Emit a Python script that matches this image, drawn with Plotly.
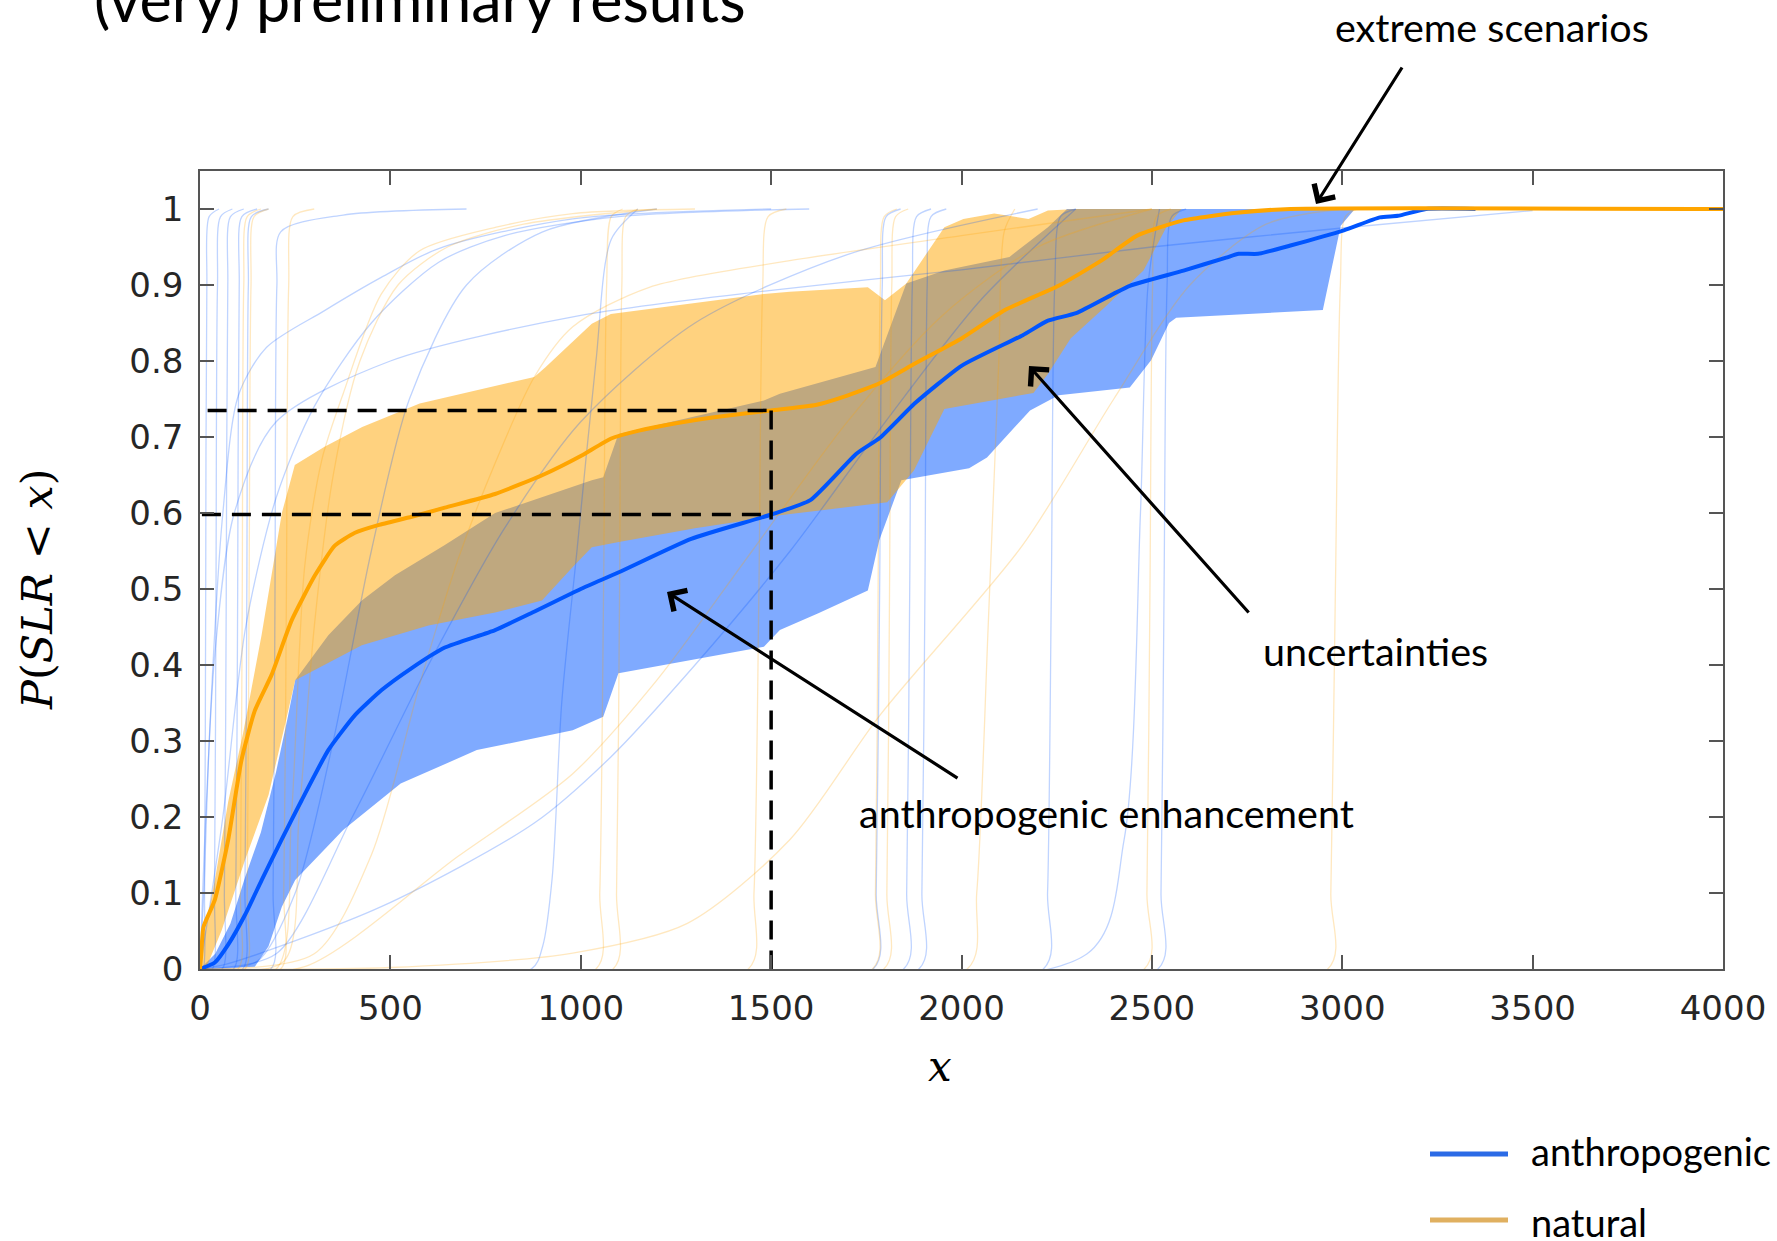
import plotly.graph_objects as go

# ---------------------------------------------------------------
# Median cumulative distributions P(SLR < x)
# ---------------------------------------------------------------
anthro_x = [0, 39, 74, 118, 162, 214, 267, 337, 407, 477, 556, 643, 775, 873, 1000,
            1100, 1290, 1500, 1603, 1724, 1786, 1879, 2001, 2161, 2227, 2301, 2398,
            2442, 2583, 2695, 2728, 2779, 2864, 3004, 3099, 3146, 3220, 3350]
anthro_p = [0, 0.0085, 0.032, 0.071, 0.117, 0.17, 0.222, 0.288, 0.334, 0.367, 0.396,
            0.423, 0.446, 0.469, 0.5, 0.522, 0.566, 0.598, 0.617, 0.678, 0.699, 0.745,
            0.794, 0.834, 0.853, 0.863, 0.888, 0.899, 0.919, 0.936, 0.941, 0.941,
            0.952, 0.972, 0.989, 0.991, 1.0, 1.0]

natural_x = [0, 3, 9, 39, 74, 109, 144, 188, 241, 302, 354, 407, 468, 556, 643, 775,
             900, 1000, 1080, 1150, 1250, 1350, 1500, 1617, 1692, 1786, 1879, 2001,
             2114, 2255, 2367, 2461, 2583, 2723, 2864, 4000]
natural_p = [0, 0.018, 0.055, 0.091, 0.17, 0.275, 0.34, 0.387, 0.459, 0.518, 0.557,
             0.574, 0.584, 0.595, 0.607, 0.625, 0.65, 0.675, 0.698, 0.708, 0.718,
             0.726, 0.735, 0.742, 0.753, 0.771, 0.797, 0.83, 0.867, 0.899, 0.932,
             0.965, 0.985, 0.995, 1.0, 1.0]

# ---------------------------------------------------------------
# Uncertainty envelopes (upper / lower bounds)
# ---------------------------------------------------------------
anthro_hi_x = [0, 40, 80, 118, 160, 200, 230, 250, 337, 425, 512, 643, 775, 1029,
               1059, 1099, 1481, 1523, 1774, 1855, 1955, 2126, 2227, 2277, 3033]
anthro_hi_p = [0, 0.02, 0.06, 0.12, 0.18, 0.26, 0.33, 0.38, 0.439, 0.485, 0.518,
               0.558, 0.6, 0.643, 0.647, 0.704, 0.748, 0.757, 0.792, 0.902, 0.919,
               0.937, 0.976, 1.0, 1.0]
anthro_lo_x = [0, 144, 180, 215, 250, 376, 527, 727, 979, 1059, 1099, 1280, 1481,
               1523, 1624, 1754, 1784, 1842, 2020, 2067, 2180, 2255, 2442, 2498, 2545,
               2564, 2949, 2996, 3033]
anthro_lo_p = [0, 0.003, 0.03, 0.082, 0.117, 0.183, 0.244, 0.288, 0.314, 0.332, 0.389,
               0.406, 0.424, 0.446, 0.468, 0.498, 0.564, 0.643, 0.659, 0.673, 0.735,
               0.755, 0.765, 0.801, 0.85, 0.857, 0.867, 0.978, 1.0]

natural_hi_x = [0, 13, 40, 74, 113, 162, 215, 249, 326, 426, 577, 878, 908, 1029,
                1079, 1481, 1549, 1754, 1799, 1855, 1955, 2005, 2086, 2176, 2227,
                2300, 2578]
natural_hi_p = [0.03, 0.05, 0.12, 0.22, 0.31, 0.44, 0.6, 0.663, 0.687, 0.713, 0.744,
                0.779, 0.792, 0.849, 0.862, 0.888, 0.891, 0.897, 0.88, 0.902, 0.976,
                0.987, 0.994, 0.987, 0.998, 1.0, 1.0]
natural_lo_x = [0, 15, 57, 118, 180, 223, 250, 425, 600, 775, 898, 979, 1029, 1100,
                1300, 1523, 1805, 1875, 1955, 2189, 2227, 2287, 2377, 2478, 2538, 2578]
natural_lo_p = [0, 0, 0.051, 0.143, 0.229, 0.321, 0.38, 0.426, 0.452, 0.469, 0.485,
                0.529, 0.555, 0.562, 0.58, 0.597, 0.614, 0.656, 0.737, 0.758, 0.783,
                0.83, 0.871, 0.919, 0.976, 1.0]

# ---------------------------------------------------------------
# Individual scenario CDFs (x values, probabilities)
# ---------------------------------------------------------------
anthro_runs = [
    ([0, 8, 12, 15, 18, 24, 50], [0, 0, 0.1, 0.5, 0.9, 0.99, 1]),
    ([0, 32, 38, 42, 46, 54, 85], [0, 0, 0.1, 0.5, 0.9, 0.99, 1]),
    ([0, 58, 64, 69, 73, 80, 115], [0, 0, 0.1, 0.5, 0.9, 0.99, 1]),
    ([0, 88, 94, 99, 103, 110, 150], [0, 0, 0.1, 0.5, 0.9, 0.99, 1]),
    ([0, 112, 118, 123, 127, 135, 180], [0, 0, 0.1, 0.5, 0.9, 0.99, 1]),
    ([0, 186, 192, 197, 202, 212, 376, 700], [0, 0, 0.1, 0.5, 0.9, 0.97, 0.992, 1]),
    ([0, 10, 26, 60, 101, 175, 326, 476, 627, 979, 1500],
     [0, 0.1, 0.32, 0.6, 0.755, 0.818, 0.866, 0.91, 0.948, 0.987, 1]),
    ([0, 15, 40, 90, 200, 500, 1000, 1500, 2000, 2500, 3000, 3500],
     [0, 0.2, 0.42, 0.6, 0.72, 0.8, 0.86, 0.893, 0.92, 0.95, 0.975, 0.998]),
    ([0, 60, 120, 200, 300, 450, 627, 800, 1100, 1600],
     [0, 0.2, 0.45, 0.62, 0.74, 0.85, 0.93, 0.965, 0.99, 1]),
    ([0, 150, 250, 350, 450, 550, 700, 900, 1200],
     [0, 0.01, 0.1, 0.3, 0.55, 0.75, 0.9, 0.97, 1]),
    ([0, 200, 400, 600, 800, 1000, 1300, 1700, 2200],
     [0, 0.02, 0.2, 0.4, 0.58, 0.72, 0.85, 0.94, 1]),
    ([0, 74, 476, 878, 1079, 1300, 1550, 1800, 2050, 2300],
     [0, 0.007, 0.082, 0.192, 0.279, 0.4, 0.55, 0.72, 0.88, 1]),
    ([0, 870, 900, 925, 950, 990, 1040, 1080, 1150],
     [0, 0, 0.03, 0.12, 0.35, 0.55, 0.8, 0.96, 1]),
    ([0, 1768, 1776, 1785, 1792, 1802, 1840], [0, 0, 0.1, 0.5, 0.9, 0.99, 1]),
    ([0, 1848, 1856, 1864, 1871, 1882, 1920], [0, 0, 0.1, 0.5, 0.9, 0.99, 1]),
    ([0, 1888, 1896, 1904, 1910, 1920, 1960], [0, 0, 0.1, 0.5, 0.9, 0.99, 1]),
    ([0, 2215, 2226, 2236, 2245, 2260, 2300], [0, 0, 0.1, 0.5, 0.9, 0.99, 1]),
    ([0, 2330, 2427, 2470, 2490, 2520], [0, 0.02, 0.17, 0.6, 0.9, 1]),
    ([0, 2516, 2524, 2532, 2540, 2552, 2590], [0, 0, 0.1, 0.5, 0.9, 0.99, 1]),
]

natural_runs = [
    ([0, 100, 106, 111, 115, 124, 160], [0, 0, 0.1, 0.5, 0.9, 0.99, 1]),
    ([0, 118, 124, 129, 134, 142, 180], [0, 0, 0.1, 0.5, 0.9, 0.99, 1]),
    ([0, 212, 220, 227, 233, 244, 300], [0, 0, 0.1, 0.5, 0.9, 0.99, 1]),
    ([0, 200, 240, 275, 320, 376, 476, 577, 778, 979, 1300],
     [0, 0, 0.2, 0.53, 0.67, 0.757, 0.888, 0.945, 0.976, 0.994, 1]),
    ([0, 220, 260, 300, 350, 420, 520, 650, 850, 1200],
     [0, 0.01, 0.2, 0.45, 0.65, 0.8, 0.9, 0.95, 0.98, 1]),
    ([0, 300, 450, 580, 677, 778, 878, 979, 1180, 1549, 2000, 2500],
     [0, 0.02, 0.15, 0.38, 0.538, 0.669, 0.779, 0.845, 0.897, 0.932, 0.965, 1]),
    ([0, 275, 677, 979, 1200, 1450, 1700, 1950, 2200, 2500],
     [0, 0.003, 0.148, 0.257, 0.38, 0.55, 0.72, 0.86, 0.95, 1]),
    ([0, 500, 979, 1280, 1549, 1786, 2161, 2400, 2600, 2800, 3000],
     [0, 0.002, 0.021, 0.06, 0.17, 0.334, 0.558, 0.75, 0.9, 0.98, 1]),
    ([0, 1040, 1050, 1060, 1068, 1080, 1110], [0, 0, 0.1, 0.5, 0.9, 0.99, 1]),
    ([0, 1085, 1094, 1102, 1108, 1118, 1150], [0, 0, 0.1, 0.5, 0.9, 0.99, 1]),
    ([0, 1440, 1455, 1468, 1478, 1492, 1540], [0, 0, 0.1, 0.5, 0.9, 0.99, 1]),
    ([0, 1766, 1774, 1781, 1787, 1797, 1830], [0, 0, 0.1, 0.5, 0.9, 0.99, 1]),
    ([0, 1796, 1804, 1811, 1817, 1827, 1860], [0, 0, 0.1, 0.5, 0.9, 0.99, 1]),
    ([0, 2015, 2040, 2070, 2098, 2112, 2140], [0, 0, 0.1, 0.45, 0.8, 0.97, 1]),
    ([0, 2480, 2487, 2495, 2502, 2512, 2550], [0, 0, 0.1, 0.5, 0.9, 0.99, 1]),
    ([0, 2962, 2970, 2982, 2995, 3008, 3040], [0, 0, 0.1, 0.5, 0.9, 0.99, 1]),
]

# Reading of the two medians at x = 1500
x_threshold = 1500
p_threshold_natural = 0.735
p_threshold_anthro = 0.598

x_ticks = [0, 500, 1000, 1500, 2000, 2500, 3000, 3500, 4000]
y_ticks = [0, 0.1, 0.2, 0.3, 0.4, 0.5, 0.6, 0.7, 0.8, 0.9, 1]
y_tick_text = ["0", "0.1", "0.2", "0.3", "0.4", "0.5", "0.6", "0.7", "0.8", "0.9", "1"]

BLUE = "#0055FF"
ORANGE = "#FFA500"

fig = go.Figure()

# shaded envelopes (blue below, orange drawn on top -> brown overlap)
fig.add_trace(go.Scatter(
    x=anthro_hi_x + anthro_lo_x[::-1], y=anthro_hi_p + anthro_lo_p[::-1],
    fill="toself", fillcolor="rgba(0,85,255,0.5)", line=dict(width=0),
    mode="lines", hoverinfo="skip", showlegend=False))
fig.add_trace(go.Scatter(
    x=natural_hi_x + natural_lo_x[::-1], y=natural_hi_p + natural_lo_p[::-1],
    fill="toself", fillcolor="rgba(255,165,0,0.5)", line=dict(width=0),
    mode="lines", hoverinfo="skip", showlegend=False))

# thin scenario curves
for xs, ps in anthro_runs:
    fig.add_trace(go.Scatter(x=xs, y=ps, mode="lines",
                             line=dict(color="rgba(0,85,255,0.25)", width=1.3,
                                       shape="spline", smoothing=0.8),
                             hoverinfo="skip", showlegend=False))
for xs, ps in natural_runs:
    fig.add_trace(go.Scatter(x=xs, y=ps, mode="lines",
                             line=dict(color="rgba(255,165,0,0.25)", width=1.3,
                                       shape="spline", smoothing=0.8),
                             hoverinfo="skip", showlegend=False))

# medians
fig.add_trace(go.Scatter(x=anthro_x, y=anthro_p, mode="lines",
                         line=dict(color=BLUE, width=4, shape="spline", smoothing=0.5),
                         name="anthropogenic", showlegend=False))
fig.add_trace(go.Scatter(x=natural_x, y=natural_p, mode="lines",
                         line=dict(color=ORANGE, width=4, shape="spline", smoothing=0.5),
                         name="natural", showlegend=False))

# dashed read-off lines at x = 1500
dash = "19px,11px"
fig.add_trace(go.Scatter(x=[20, x_threshold], y=[p_threshold_natural] * 2, mode="lines",
                         line=dict(color="black", width=3.5, dash=dash),
                         hoverinfo="skip", showlegend=False))
fig.add_trace(go.Scatter(x=[5, x_threshold], y=[p_threshold_anthro] * 2, mode="lines",
                         line=dict(color="black", width=3.5, dash=dash),
                         hoverinfo="skip", showlegend=False))
fig.add_trace(go.Scatter(x=[x_threshold, x_threshold], y=[p_threshold_natural, 0],
                         mode="lines", line=dict(color="black", width=3.5, dash=dash),
                         hoverinfo="skip", showlegend=False))

# pixel -> paper helpers for the plot area (left 200, right 1723, top 171, bottom 969)
def px(v):
    return (v - 200) / 1523.0


def py(v):
    return (969 - v) / 798.0


TXT = dict(family="Lato, 'Open Sans', sans-serif", size=39.5, color="black")
LEG = dict(family="Lato, 'Open Sans', sans-serif", size=38, color="black")
annotations = [
    dict(text="(very) preliminary results", x=px(92), y=py(-1), xanchor="left",
         font=dict(family="Lato, sans-serif", size=61, color="black")),
    dict(text="extreme scenarios", x=px(1492), y=py(26), font=TXT),
    dict(text="uncertainties", x=px(1375), y=py(650), font=TXT),
    dict(text="anthropogenic enhancement", x=px(1106), y=py(812), font=TXT),
    dict(text="anthropogenic", x=px(1529), y=py(1151), xanchor="left", font=LEG),
    dict(text="natural", x=px(1529), y=py(1222), xanchor="left", font=LEG),
    dict(text="<i>x</i>", x=px(940), y=py(1066),
         font=dict(family="DejaVu Serif", size=42, color="black")),
    dict(text="<i>P</i>(<i>SLR</i> &lt; <i>x</i>)", x=px(37), y=py(589), textangle=-90,
         font=dict(family="DejaVu Serif", size=43, color="black")),
]
for a in annotations:
    a.setdefault("xanchor", "center")
    a.update(xref="paper", yref="paper", yanchor="middle", showarrow=False)

# arrows: (tail, head) in pixels
arrows = [((1403, 66), (1316, 204)),
          ((1250, 614), (1029, 366)),
          ((959, 779), (667, 592))]
for (tx, ty), (hx, hy) in arrows:
    annotations.append(dict(text="", x=px(hx), y=py(hy), xref="paper", yref="paper",
                            ax=tx - hx, ay=ty - hy, axref="pixel", ayref="pixel",
                            showarrow=True, arrowhead=4, arrowsize=1.5, arrowwidth=3.2,
                            arrowcolor="black", standoff=0, startstandoff=0))

# hand-drawn legend swatches
shapes = [
    dict(type="line", xref="paper", yref="paper", x0=px(1430), x1=px(1508),
         y0=py(1154), y1=py(1154), line=dict(color="#2B6BE6", width=5)),
    dict(type="line", xref="paper", yref="paper", x0=px(1430), x1=px(1508),
         y0=py(1220), y1=py(1220), line=dict(color="#E0B060", width=5)),
]

axis_common = dict(
    showgrid=False, zeroline=False, showline=True, linecolor="#555555", linewidth=1.5,
    mirror="ticks", ticks="inside", ticklen=14, tickwidth=1.5, tickcolor="#555555",
    tickfont=dict(family="DejaVu Sans", size=34, color="#262626"),
)

fig.update_layout(
    width=1777, height=1241,
    margin=dict(l=200, r=54, t=171, b=272),
    paper_bgcolor="white", plot_bgcolor="white",
    xaxis=dict(range=[0, 4000], tickvals=x_ticks, ticklabelstandoff=8, **axis_common),
    yaxis=dict(range=[0, 1.05], tickvals=y_ticks, ticktext=y_tick_text,
               ticklabelstandoff=8, **axis_common),
    annotations=annotations, shapes=shapes, showlegend=False,
)

fig.write_html("out.html")
